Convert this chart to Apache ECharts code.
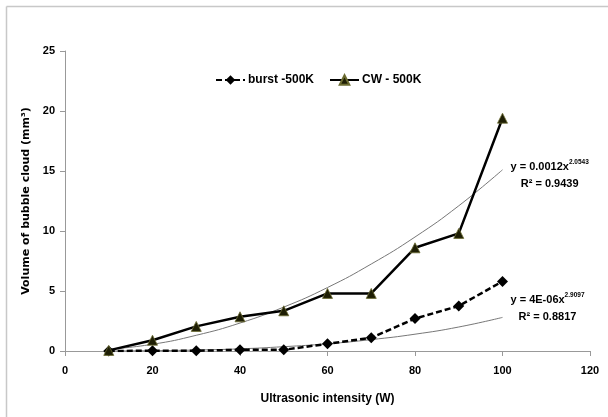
<!DOCTYPE html>
<html>
<head>
<meta charset="utf-8">
<script src="https://cdn.jsdelivr.net/npm/echarts@6/dist/echarts.min.js"></script>
<style>
html,body{margin:0;padding:0;background:#fff;}
#c{width:608px;height:417px;}
</style>
</head>
<body>
<div id="c"></div>
<script>
var xValues = [10, 20, 30, 40, 50, 60, 70, 80, 90, 100];
var burstValues = [0.0, 0.02, 0.02, 0.1, 0.1, 0.6, 1.1, 2.7, 3.75, 5.8];
var cwValues = [0.05, 0.9, 2.05, 2.85, 3.35, 4.8, 4.8, 8.6, 9.8, 19.4];
var cwTrend = [0.14, 0.56, 1.31, 2.33, 3.66, 5.29, 7.25, 9.5, 12.1, 15.1];
var burstTrend = [0.003, 0.024, 0.08, 0.18, 0.36, 0.6, 0.95, 1.4, 2.0, 2.8];
var burstName = 'burst -500K';
var cwName = 'CW - 500K';
var cwEq = ['y = 0.0012x', '2.0543', 'R² = 0.9439'];
var burstEq = ['y = 4E-06x', '2.9097', 'R² = 0.8817'];

function pairs(v){ return xValues.map(function(x,i){ return [x, v[i]]; }); }
var font = '"Liberation Sans", Arial, sans-serif';

function eqLabel(eq, off){
  return {
    show: true, distance: 8, offset: off,
    formatter: function(){ return '{a|' + eq[0] + '}{s|' + eq[1] + '}\n{c|' + eq[2] + '}'; },
    rich: {
      a: {fontFamily: font, fontWeight: 'bold', fontSize: 11, color: '#000', lineHeight: 17},
      s: {fontFamily: font, fontWeight: 'bold', fontSize: 6.5, color: '#000', verticalAlign: 'top', lineHeight: 17, padding:[0,0,7,0]},
      c: {fontFamily: font, fontWeight: 'bold', fontSize: 11, color: '#000', align: 'center', lineHeight: 17}
    }
  };
}

var chart = echarts.init(document.getElementById('c'), null, {renderer: 'canvas'});
chart.setOption({
  animation: false,
  backgroundColor: '#fff',
  graphic: [
    {type: 'line', shape: {x1: 6.5, y1: 6.5, x2: 608, y2: 6.5}, style: {stroke: '#c8c8c8', lineWidth: 1.5}},
    {type: 'line', shape: {x1: 6.5, y1: 6.5, x2: 6.5, y2: 417}, style: {stroke: '#c8c8c8', lineWidth: 1.5}}
  ],
  grid: {left: 65, right: 18, top: 51, bottom: 66},
  legend: {
    top: 69, left: 210,
    data: [burstName, cwName],
    itemWidth: 29, itemHeight: 12, itemGap: 15,
    textStyle: {fontFamily: font, fontWeight: 'bold', fontSize: 12, color: '#000', padding: [0, 0, 0, -2]},
  },
  xAxis: {
    type: 'value', min: 0, max: 120, interval: 20,
    name: 'Ultrasonic intensity (W)', nameLocation: 'middle', nameGap: 42,
    nameTextStyle: {fontFamily: font, fontWeight: 'bold', fontSize: 12, color: '#000'},
    axisLine: {show: true, lineStyle: {color: '#999', width: 1}},
    axisTick: {show: true, length: 5, inside: false, lineStyle: {color: '#999'}},
    axisLabel: {fontFamily: font, fontWeight: 'bold', fontSize: 11, color: '#000', margin: 14},
    splitLine: {show: false}
  },
  yAxis: {
    type: 'value', min: 0, max: 25, interval: 5,
    name: 'Volume of bubble cloud (mm³)', nameLocation: 'middle', nameGap: 20, nameRotate: 90,
    nameTextStyle: {fontFamily: '"DejaVu Sans", sans-serif', fontWeight: 'bold', fontSize: 11, color: '#000'},
    axisLine: {show: true, onZero: false, lineStyle: {color: '#999', width: 1}},
    axisTick: {show: true, length: 5, lineStyle: {color: '#999'}},
    axisLabel: {fontFamily: font, fontWeight: 'bold', fontSize: 11, color: '#000', margin: 10},
    splitLine: {show: false}
  },
  series: [
    {
      name: 'cwTrend', type: 'line', data: pairs(cwTrend), smooth: true, symbol: 'none', showSymbol: false,
      lineStyle: {color: '#777', width: 1}, z: 1,
      endLabel: eqLabel(cwEq, [0, 6]), silent: true
    },
    {
      name: 'burstTrend', type: 'line', data: pairs(burstTrend), smooth: true, symbol: 'none', showSymbol: false,
      lineStyle: {color: '#777', width: 1}, z: 1,
      endLabel: eqLabel(burstEq, [0, -9]), silent: true
    },
    {
      name: burstName, type: 'line', data: pairs(burstValues),
      symbol: 'diamond', symbolSize: 11,
      itemStyle: {color: '#000'},
      lineStyle: {color: '#000', width: 2.5, type: [6, 3]}, z: 3
    },
    {
      name: cwName, type: 'line', data: pairs(cwValues),
      symbol: 'triangle', symbolSize: 10,
      itemStyle: {color: '#1e1e05', borderColor: '#6b6b30', borderWidth: 0.8},
      lineStyle: {color: '#000', width: 2.5}, z: 4
    }
  ]
});
</script>
</body>
</html>
